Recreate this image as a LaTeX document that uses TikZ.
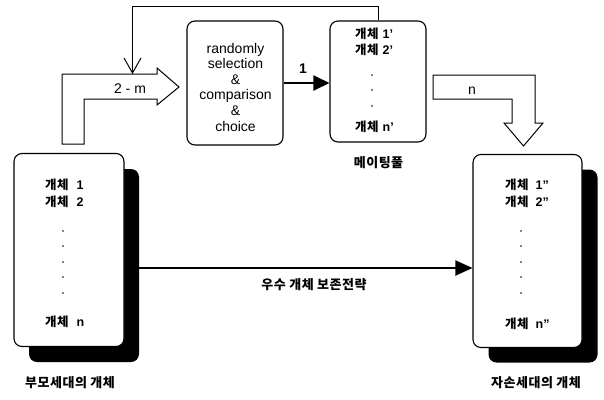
\documentclass[tikz,border=0pt]{standalone}
\usepackage{fontspec}
\setmainfont{Liberation Sans}
\newfontfamily\kr{Noto Sans CJK KR}[LetterSpace=4]
\usetikzlibrary{arrows.meta}
\begin{document}
\begin{tikzpicture}[x=1pt,y=-1pt,
  card/.style={draw, line width=1.1pt, rounded corners=8pt, fill=white, inner sep=0pt},
  cardshade/.style={fill=black, rounded corners=8pt, inner sep=0pt},
  tall/.style={minimum width=110pt, minimum height=193pt},
  entry/.style={anchor=west, inner sep=0pt, font=\bfseries\fontsize{12.5}{14}\selectfont},
  caption/.style={inner sep=0pt, font=\kr\bfseries\fontsize{13}{15}\selectfont},
  latin/.style={inner sep=0pt, font=\fontsize{14}{15.6}\selectfont},
  bent/.style={draw, line width=1pt, fill=white, line join=miter},
  heavy/.style={line width=2.4pt, -{Triangle[length=16pt,width=15pt]}},
  thin/.style={line width=1pt}
]
\useasboundingbox (0,0) rectangle (604,399);

% parent generation and its shadow
\node[cardshade, tall] (parsh) at (84,265.5) {};
\node[card, tall] (par) at (69,250) {};
% offspring generation and its shadow
\node[cardshade, tall, minimum width=109pt] (chsh) at (543,266) {};
\node[card, tall, minimum width=109pt] (ch) at (527.5,251) {};
% selection step and mating pool
\node[card, minimum width=96pt, minimum height=124pt] (sel) at (235,83) {};
\node[card, minimum width=96pt, minimum height=121pt] (pool) at (378,81.5) {};

% selection text
\node[latin, align=center] (seltext) at (235.5,87)
  {randomly\\selection\\\&\\comparison\\\&\\choice};

% entries of the parent generation
\node[entry] (p1) at (45,185) {{\kr 개체}\hspace{8pt}1};
\node[entry] (p2) at (45,202) {{\kr 개체}\hspace{8pt}2};
\foreach \yy in {231,246,262,277,293} \fill (63,\yy) circle (0.8pt);
\node[entry] (pn) at (45,322) {{\kr 개체}\hspace{8pt}n};

% entries of the offspring generation
\node[entry] (c1) at (505,185) {{\kr 개체}\hspace{7pt}1"};
\node[entry] (c2) at (505,202) {{\kr 개체}\hspace{7pt}2"};
\foreach \yy in {231,246,262,277,293} \fill (521,\yy) circle (0.8pt);
\node[entry] (cn) at (505,324) {{\kr 개체}\hspace{7pt}n"};

% entries of the mating pool
\node[entry] (m1) at (355,34) {{\kr 개체}\hspace{4pt}1'};
\node[entry] (m2) at (355,50) {{\kr 개체}\hspace{4pt}2'};
\foreach \yy in {75,90,106} \fill (372,\yy) circle (0.8pt);
\node[entry] (mn) at (355,127) {{\kr 개체}\hspace{4pt}n'};

% captions
\node[caption] (parcap) at (70,383) {부모세대의 개체};
\node[caption] (chcap) at (536,383) {자손세대의 개체};
\node[caption] (poolcap) at (378.5,163) {메이팅풀};
\node[caption] (elitecap) at (314,285) {우수 개체 보존전략};

% bent block arrow feeding the selection step
\draw[bent] (62,144) -- (62,74) -- (157,74) -- (157,68) -- (179,87)
  -- (157,105) -- (157,99) -- (84,99) -- (84,144) -- cycle;
\node[latin] (twom) at (130,89) {2 - m};
\coordinate (fbend) at (132.5,74);

% bent block arrow into the offspring generation
\draw[bent] (433,75) -- (535,75) -- (535,123) -- (543,123) -- (523.5,146)
  -- (504,123) -- (512,123) -- (512,99) -- (433,99) -- cycle;
\node[latin] (nlab) at (472,91) {n};

% selection to mating pool
\draw[heavy] (sel.east |- 0,83) -- (pool.west |- 0,83);
\node[latin, font=\bfseries\fontsize{14}{15.6}\selectfont] (one) at (303,69) {1};

% feedback from the mating pool
\draw[thin, -{Straight Barb[length=15pt,width=17pt]}]
  (pool.north) -- (pool.north |- 0,6) -- (fbend |- 0,6) -- (fbend);

% elitist preservation
\draw[heavy, line width=2pt, -{Triangle[length=17pt,width=15pt]}]
  (parsh.east |- 0,268) -- (ch.west |- 0,268);
\end{tikzpicture}
\end{document}
